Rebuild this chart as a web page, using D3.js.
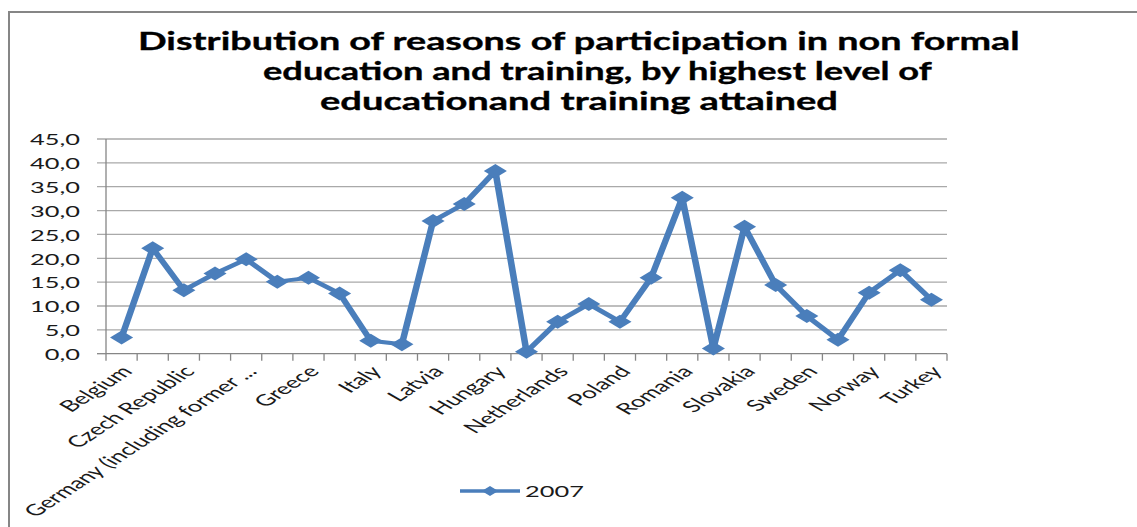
<!DOCTYPE html>
<html>
<head>
<meta charset="utf-8">
<script src="https://cdn.jsdelivr.net/npm/d3@7"></script>
<style>
  html, body { margin: 0; padding: 0; background: #ffffff; overflow: hidden; }
  svg { display: block; }
</style>
</head>
<body>
<svg id="chart" width="1137" height="527"></svg>
<script>
// ---- data ----
const countries = [
  "Belgium", "Bulgaria", "Czech Republic", "Denmark",
  "Germany (including former GDR from 1991)", "Estonia", "Greece", "Spain",
  "Italy", "Cyprus", "Latvia", "Lithuania", "Hungary", "Malta",
  "Netherlands", "Austria", "Poland", "Portugal", "Romania", "Slovenia",
  "Slovakia", "Finland", "Sweden", "United Kingdom", "Norway", "Croatia", "Turkey"
];
const values2007 = [
  3.4, 22.1, 13.3, 16.8, 19.8, 15.1, 15.9, 12.6, 2.7, 2.0, 27.8, 31.4, 38.3, 0.4,
  6.7, 10.4, 6.7, 15.9, 32.7, 1.1, 26.6, 14.4, 7.9, 2.9, 12.8, 17.5, 11.3
];
const yTicks = [0, 5, 10, 15, 20, 25, 30, 35, 40, 45];
const seriesName = "2007";
const titleLines = [
  "Distribution of reasons of participation in non formal",
  "education and training, by highest level of",
  "educationand training attained"
];

// ---- layout ----
const W = 1137, H = 527;
const FONT = "Lato, 'Open Sans', sans-serif";
const LINE_COLOR = "#4A7EBB";
const AXIS_COLOR = "#868686";
const GRID_COLOR = "#a9a9a9";
const TEXT_SIZE = 15.5;
const CAT_SIZE = 15.8;
const plot = { left: 106, right: 947, top: 139, bottom: 353.7 };
const SXL = 1.65; // horizontal stretch of the series marks

const svg = d3.select("#chart");

// chart frame
svg.append("path")
  .attr("d", `M9,${H} V12 H${W}`)
  .attr("fill", "none")
  .attr("stroke", AXIS_COLOR)
  .attr("stroke-width", 2);

// title: each line is widened to its box
const titleBoxes = [
  { left: 138, width: 882, base: 50 },
  { left: 263, width: 669, base: 80 },
  { left: 320, width: 518, base: 110 }
];
svg.append("g").selectAll("text").data(titleLines).join("text")
  .attr("text-anchor", "start")
  .attr("font-family", FONT)
  .attr("font-weight", "bold")
  .attr("font-size", 25)
  .attr("fill", "#000")
  .attr("stroke", "#000")
  .attr("stroke-width", 0.35)
  .text(d => d)
  .each(function (d, i) {
    const b = titleBoxes[i];
    const s = b.width / this.getComputedTextLength();
    d3.select(this).attr("transform", `translate(${b.left},${b.base}) scale(${s},1)`);
  });

// scales
const x = d3.scaleBand().domain(countries).range([plot.left, plot.right]);
const y = d3.scaleLinear().domain([0, 45]).range([plot.bottom, plot.top]);
const fmt = v => d3.format(".1f")(v).replace(".", ",");

// axis text width calibration
const probe = svg.append("text").attr("font-family", FONT).attr("font-size", TEXT_SIZE).text(fmt(45));
const sxAxis = 50 / probe.node().getComputedTextLength();
probe.remove();

// gridlines (with outward tick stubs)
svg.append("g").selectAll("line").data(yTicks.filter(t => t > 0)).join("line")
  .attr("x1", plot.left - 9).attr("x2", plot.right)
  .attr("y1", d => y(d)).attr("y2", d => y(d))
  .attr("stroke", GRID_COLOR).attr("stroke-width", 1.3);

// y axis
svg.append("line")
  .attr("x1", plot.left).attr("x2", plot.left)
  .attr("y1", y(45)).attr("y2", y(0))
  .attr("stroke", AXIS_COLOR).attr("stroke-width", 1.3);
svg.append("line")
  .attr("x1", plot.left - 9).attr("x2", plot.left)
  .attr("y1", y(0)).attr("y2", y(0))
  .attr("stroke", AXIS_COLOR).attr("stroke-width", 1.3);
svg.append("g").selectAll("text").data(yTicks).join("text")
  .attr("text-anchor", "end")
  .attr("font-family", FONT).attr("font-size", TEXT_SIZE).attr("fill", "#1a1a1a")
  .attr("transform", d => `translate(80,${y(d) + 6.3}) scale(${sxAxis},1)`)
  .text(fmt);

// x axis
svg.append("line")
  .attr("x1", plot.left).attr("x2", plot.right)
  .attr("y1", y(0)).attr("y2", y(0))
  .attr("stroke", AXIS_COLOR).attr("stroke-width", 1.3);
const boundaries = countries.map(c => x(c)).concat([x(countries[countries.length - 1]) + x.bandwidth()]);
svg.append("g").selectAll("line").data(boundaries).join("line")
  .attr("x1", d => d).attr("x2", d => d)
  .attr("y1", y(0)).attr("y2", y(0) + 7)
  .attr("stroke", AXIS_COLOR).attr("stroke-width", 1.3);

const shortName = n => n.length > 30 ? n.slice(0, 25) + " ..." : n;
svg.append("g").selectAll("text")
  .data(countries.filter((c, i) => i % 2 === 0)).join("text")
  .attr("text-anchor", "end")
  .attr("font-family", FONT).attr("font-size", CAT_SIZE).attr("fill", "#1a1a1a")
  .attr("transform", d => `translate(${x(d) + x.bandwidth() / 2 + 12},${y(0) + 18.5}) scale(${sxAxis},1) rotate(-47)`)
  .text(shortName);

// series
const xl = d3.scaleBand().domain(countries).range([plot.left / SXL, plot.right / SXL]);
const cxl = c => xl(c) + xl.bandwidth() / 2;
const pts = countries.map((c, i) => ({ c, v: values2007[i] }));
const seriesG = svg.append("g").attr("transform", `scale(${SXL},1)`);
seriesG.append("path")
  .datum(pts)
  .attr("fill", "none")
  .attr("stroke", LINE_COLOR)
  .attr("stroke-width", 4)
  .attr("stroke-linejoin", "round")
  .attr("d", d3.line().x(d => cxl(d.c)).y(d => y(d.v)));
const diamond = "M0,-7L7,0L0,7L-7,0Z";
seriesG.selectAll("path.mk").data(pts).join("path")
  .attr("class", "mk")
  .attr("d", diamond)
  .attr("transform", d => `translate(${cxl(d.c)},${y(d.v)})`)
  .attr("fill", LINE_COLOR);

// legend
const lg = svg.append("g");
lg.append("g").attr("transform", `scale(${SXL},1)`).call(g => {
  g.append("line")
    .attr("x1", 460 / SXL).attr("x2", 520 / SXL)
    .attr("y1", 491).attr("y2", 491)
    .attr("stroke", LINE_COLOR).attr("stroke-width", 3.5);
  g.append("path")
    .attr("d", "M0,-5L5,0L0,5L-5,0Z")
    .attr("transform", `translate(${490 / SXL},491)`)
    .attr("fill", LINE_COLOR);
});
lg.append("text")
  .attr("font-family", FONT).attr("font-size", TEXT_SIZE).attr("fill", "#1a1a1a")
  .attr("transform", `translate(525,497) scale(${sxAxis},1)`)
  .text(seriesName);
</script>
</body>
</html>
